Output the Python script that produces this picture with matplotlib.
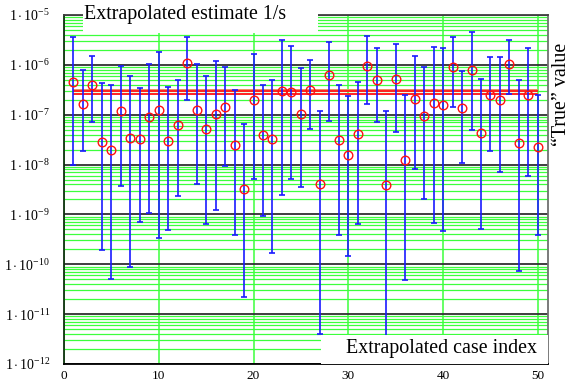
import numpy as np
import matplotlib
matplotlib.use('Agg')
import matplotlib.pyplot as plt
from matplotlib.patches import Rectangle
from matplotlib.ticker import LogLocator, FixedLocator, NullFormatter

# Mathcad-style look: Times-like serif everywhere
plt.rcParams['font.family'] = ['Liberation Serif', 'DejaVu Serif']
plt.rcParams['mathtext.fontset'] = 'custom'
plt.rcParams['mathtext.rm'] = 'Liberation Serif'
plt.rcParams['mathtext.it'] = 'Liberation Serif:italic'

# Data
case_index = list(range(1, 51))
estimate = [4.55e-7, 1.67e-7, 4.03e-7, 2.88e-8, 1.99e-8, 1.17e-7, 3.41e-8, 3.26e-8, 9.16e-8, 1.25e-7,
            3.02e-8, 6.23e-8, 1.10e-6, 1.25e-7, 5.17e-8, 1.05e-7, 1.43e-7, 2.47e-8, 3.27e-9, 1.98e-7,
            3.92e-8, 3.21e-8, 3.00e-7, 2.87e-7, 1.05e-7, 3.15e-7, 4.07e-9, 6.40e-7, 3.06e-8, 1.53e-8,
            4.17e-8, 9.70e-7, 5.00e-7, 3.88e-9, 5.15e-7, 1.26e-8, 2.05e-7, 9.33e-8, 1.75e-7, 1.55e-7,
            9.10e-7, 1.35e-7, 7.82e-7, 4.31e-8, 2.50e-7, 1.95e-7, 1.03e-6, 2.72e-8, 2.50e-7, 2.23e-8]
upper = [3.65e-6, 8.05e-7, 1.49e-6, 4.42e-7, 3.90e-7, 9.55e-7, 6.00e-7, 3.40e-7, 1.02e-6, 1.77e-6,
         3.56e-7, 5.07e-7, 3.65e-6, 1.02e-6, 6.00e-7, 1.17e-6, 9.10e-7, 3.10e-7, 6.43e-8, 1.62e-6,
         3.90e-7, 5.07e-7, 3.13e-6, 2.41e-6, 8.57e-7, 1.24e-6, 1.19e-7, 2.94e-6, 3.90e-7, 2.34e-7,
         4.55e-7, 3.83e-6, 2.16e-6, 1.19e-7, 2.64e-6, 2.46e-7, 1.49e-6, 8.98e-7, 2.26e-6, 2.13e-6,
         3.59e-6, 7.58e-7, 4.46e-6, 5.32e-7, 1.47e-6, 1.47e-6, 3.22e-6, 5.00e-7, 2.13e-6, 2.54e-7]
lower = [1.0e-8, 1.84e-8, 7.05e-8, 1.95e-10, 5.0e-11, 3.76e-9, 9.0e-11, 7.1e-10, 1.06e-9, 3.39e-10,
         4.91e-10, 2.37e-9, 2.01e-7, 4.13e-9, 6.38e-10, 1.24e-9, 9.5e-9, 3.84e-10, 2.25e-11, 5.12e-9,
         9.24e-10, 1.67e-10, 2.48e-9, 5.12e-9, 3.54e-9, 5.26e-8, 4.06e-12, 7.5e-8, 3.84e-10, 1.5e-10,
         6.38e-10, 1.64e-7, 7.16e-8, 2.0e-12, 4.46e-8, 4.85e-11, 8.05e-9, 2.08e-9, 6.65e-10, 4.67e-10,
         1.46e-7, 1.08e-8, 4.97e-8, 5.12e-10, 1.91e-8, 7.24e-9, 2.58e-7, 7.35e-11, 5.93e-9, 3.82e-10]

true_values = [3.2e-7, 2.95e-7, 2.65e-7]
true_colors = ['#e89060', '#ff2020', '#ff2020']
true_span = (1, 50)

y_exponents = list(range(-12, -4))
x_ticks = [0, 10, 20, 30, 40, 50]

fig = plt.figure(figsize=(5.69, 3.81), dpi=100)
ax = fig.add_axes([64 / 569, 17 / 381, 484 / 569, 349 / 381])

est = np.array(estimate)
err = [est - np.array(lower), np.array(upper) - est]
ax.errorbar(case_index, est, yerr=err, fmt='none', ecolor='#1a1aff', elinewidth=1.2,
            capsize=2.2, capthick=1.2, zorder=3)
ax.hlines(true_values, true_span[0], true_span[1], colors=true_colors, lw=1.4, zorder=2)
ax.plot(case_index, est, 'o', mfc='none', mec='#ff1010', ms=6.2, mew=1.0, zorder=4)

ax.set_yscale('log')
ax.set_ylim(1e-12, 1e-5)
ax.set_xlim(0, 51.07)

ax.yaxis.set_major_locator(FixedLocator([10.0 ** e for e in y_exponents]))
ax.set_yticklabels([r'$1\cdot10^{%d}$' % e for e in y_exponents])
ax.yaxis.set_minor_locator(LogLocator(base=10, subs=range(2, 10), numticks=100))
ax.yaxis.set_minor_formatter(NullFormatter())
ax.set_xticks(x_ticks)

ax.tick_params(axis='both', which='both', length=0)
ax.tick_params(axis='y', labelsize=10, pad=10)
ax.tick_params(axis='x', labelsize=9.5, pad=4)

ax.set_axisbelow(True)
ax.grid(which='minor', axis='y', color='#3cff3c', lw=0.9)
ax.grid(which='major', axis='y', color='#303030', lw=1.3)
ax.grid(which='major', axis='x', color='#3cff3c', lw=1.1)

for side, col in [('left', '#103010'), ('bottom', '#000000'), ('top', '#404040'), ('right', '#707070')]:
    ax.spines[side].set_color(col)
    ax.spines[side].set_linewidth(1.3)

# white boxes behind the Mathcad labels
fig.patches.append(Rectangle((83 / 569, 1 - 33 / 381), 235 / 569, 33 / 381,
                             transform=fig.transFigure, fc='white', ec='none', zorder=1))
fig.patches.append(Rectangle((321 / 569, 1 - 364 / 381), 227 / 569, 29 / 381,
                             transform=fig.transFigure, fc='white', ec='none', zorder=1))

fig.text(84 / 569, 1 - 15 / 381, 'Extrapolated estimate 1/s', fontsize=14.4,
         ha='left', va='center', zorder=3)
fig.text(537 / 569, 1 - 349 / 381, 'Extrapolated case index', fontsize=14.4,
         ha='right', va='center', zorder=3)
fig.text(561 / 569, 1 - 94 / 381, '\u201cTrue\u201d value', fontsize=14.4,
         rotation=90, ha='center', va='center', zorder=3)

fig.savefig('out.png', dpi=100)
